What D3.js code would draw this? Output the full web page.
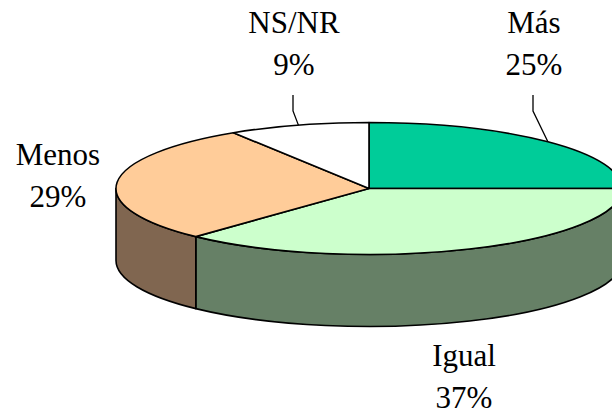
<!DOCTYPE html>
<html>
<head><meta charset="utf-8"></head>
<body style="margin:0">
<svg width="612" height="415"></svg>
<script src="https://d3js.org/d3.v7.min.js"></script>
<script>
// data
var categories = ["M\u00e1s", "Igual", "Menos", "NS/NR"];
var values = [25, 37, 29, 9];
var topColors = ["#00CC99", "#CCFFCC", "#FFCC99", "#FFFFFF"];
var sideColors = ["#006650", "#668066", "#806650", "#808080"];

var svg = d3.select("svg"),
    width = +svg.attr("width"),
    height = +svg.attr("height");

// ellipse geometry
var cx = 369, cy = 188.5, rx = 253, ry = 66, depth = 72;

var pie = d3.pie().sort(null).value(function(d) { return d; });
var arcs = pie(values);

function px(a) { return cx + rx * Math.sin(a); }
function py(a) { return cy - ry * Math.cos(a); }

function topPath(d) {
  var a0 = d.startAngle, a1 = d.endAngle;
  var large = (a1 - a0) > Math.PI ? 1 : 0;
  return "M" + cx + "," + cy +
    "L" + px(a0) + "," + py(a0) +
    "A" + rx + "," + ry + " 0 " + large + " 1 " + px(a1) + "," + py(a1) + "Z";
}

function wallPath(d) {
  var a0 = Math.max(d.startAngle, Math.PI / 2),
      a1 = Math.min(d.endAngle, Math.PI * 1.5);
  if (a1 <= a0) return null;
  return "M" + px(a0) + "," + py(a0) +
    "A" + rx + "," + ry + " 0 0 1 " + px(a1) + "," + py(a1) +
    "L" + px(a1) + "," + (py(a1) + depth) +
    "A" + rx + "," + ry + " 0 0 0 " + px(a0) + "," + (py(a0) + depth) + "Z";
}

// outer walls first
svg.append("g").selectAll("path")
    .data(arcs.filter(function(d) { return wallPath(d) !== null; }))
  .enter().append("path")
    .attr("d", wallPath)
    .attr("fill", function(d) { return sideColors[d.index]; })
    .attr("stroke", "#000")
    .attr("stroke-width", 1.6)
    .attr("stroke-linejoin", "round");

// top faces
svg.append("g").selectAll("path")
    .data(arcs)
  .enter().append("path")
    .attr("d", topPath)
    .attr("fill", function(d) { return topColors[d.index]; })
    .attr("stroke", "#000")
    .attr("stroke-width", 1.6)
    .attr("stroke-linejoin", "round");

// labels (Excel puts them outside the pie)
var labelPos = [[534, 33], [464, 366], [58, 165], [294, 33]];
var lineGap = 42;
var pct = d3.format(".0%");

// centre by measuring instead of text-anchor
function label(x, y, s) {
  var t = svg.append("text")
      .attr("x", x)
      .attr("y", y)
      .style("font-family", "'Liberation Serif'")
      .style("font-size", "31px")
      .text(s);
  var w = t.node().getComputedTextLength();
  t.attr("x", x - w / 2);
}
arcs.forEach(function(d, i) {
  var p = labelPos[i];
  label(p[0], p[1], categories[i]);
  label(p[0], p[1] + lineGap, pct(d.value / d3.sum(values)));
});

// leader lines for the two top labels
[0, 3].forEach(function(i) {
  var d = arcs[i];
  var mid = (d.startAngle + d.endAngle) / 2;
  var lx = labelPos[i][0] - 1;
  var y0 = labelPos[i][1] + lineGap + 20;
  svg.append("path")
      .attr("fill", "none")
      .attr("stroke", "#000")
      .attr("stroke-width", 1.3)
      .attr("d", d3.line()([[lx, y0], [lx, y0 + 16], [px(mid), py(mid)]]));
});
</script>
</body>
</html>
